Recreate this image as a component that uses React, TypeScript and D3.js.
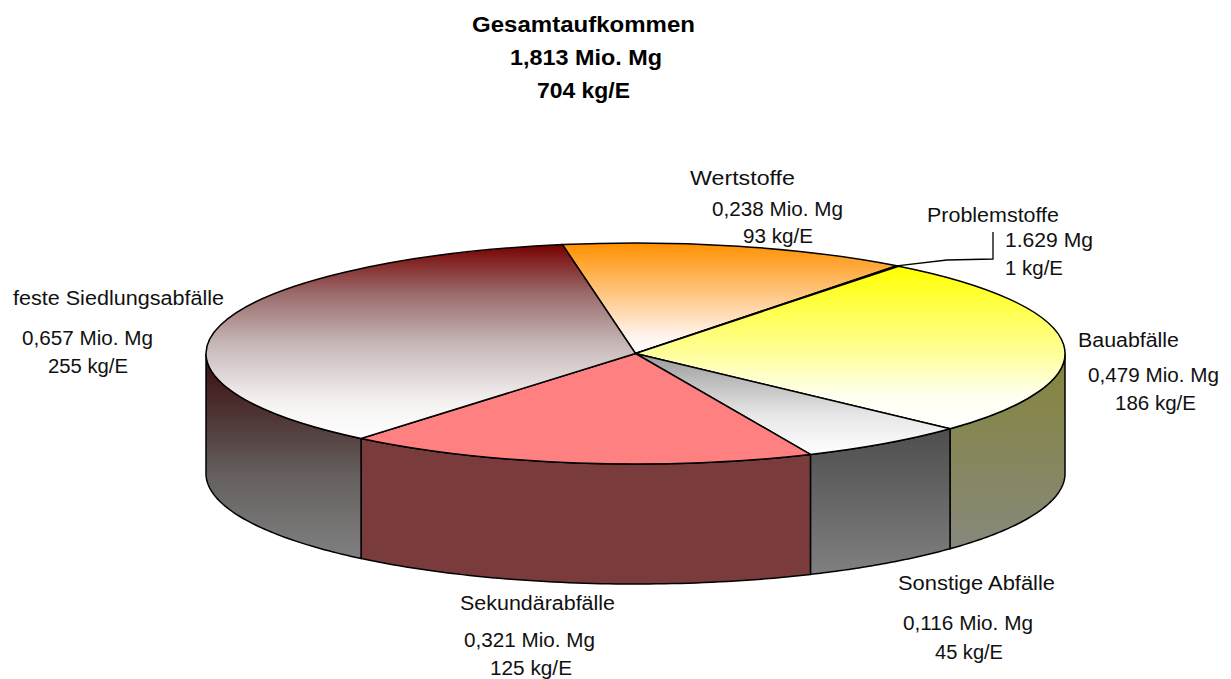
import React from "react";
import * as d3 from "d3";

const categories = ["Wertstoffe", "Problemstoffe", "Bauabfälle", "Sonstige Abfälle", "Sekundärabfälle", "feste Siedlungsabfälle"];
const massMioMg = [0.238, 0.001629, 0.479, 0.116, 0.321, 0.657];
const amountLabels = ["0,238 Mio. Mg", "1.629 Mg", "0,479 Mio. Mg", "0,116 Mio. Mg", "0,321 Mio. Mg", "0,657 Mio. Mg"];
const perCapitaLabels = ["93 kg/E", "1 kg/E", "186 kg/E", "45 kg/E", "125 kg/E", "255 kg/E"];
const titleLines = ["Gesamtaufkommen", "1,813 Mio. Mg", "704 kg/E"];

const W = 1231, H = 679;
const cx = 635.5, cy = 353.5, rx = 429.5, ry = 110.5, depth = 120;
const startDeg = -9.8;
const R = 1000;

// gradient stops [offset, colour] of each slice's top face and side wall
type Stops = [number, string][];
const topFill: Stops[] = [
  [[0, "#ff9000"], [0.85, "#fff4ee"], [1, "#ffffff"]],
  [[0, "#ffe040"], [1, "#ffffff"]],
  [[0, "#ffff00"], [0.5, "#ffff90"], [0.8, "#fffff0"], [1, "#ffffff"]],
  [[0, "#999999"], [0.6, "#e6e6e6"], [1, "#ffffff"]],
  [[0, "#ff8080"], [1, "#ff8080"]],
  [[0, "#780000"], [0.25, "#9a6a6a"], [0.5, "#c4b4b4"], [0.8, "#f4f0f0"], [1, "#ffffff"]],
];
const sideFill: Stops[] = [
  [[0, "#806000"], [1, "#808080"]],
  [[0, "#807000"], [1, "#808080"]],
  [[0, "#85853a"], [1, "#88887c"]],
  [[0, "#4e4e4e"], [1, "#808080"]],
  [[0, "#793b3b"], [1, "#793b3b"]],
  [[0, "#3c0c0c"], [0.3, "#4e3434"], [0.6, "#666060"], [1, "#808080"]],
];

// for each label: left edge, width and baseline of its three rows
const labelLayout = [
  { xs: [690, 712, 743], ws: [105, 131, 70], ys: [185, 216, 243] },
  { xs: [927, 1005, 1005], ws: [132, 88, 58], ys: [222, 247, 275] },
  { xs: [1078, 1088, 1115], ws: [101, 131, 81], ys: [347, 382, 410] },
  { xs: [898, 903, 935], ws: [157, 130, 68], ys: [590, 630, 659] },
  { xs: [460, 464, 490], ws: [155, 131, 82], ys: [610, 647, 675] },
  { xs: [13, 22, 48], ws: [211, 131, 80], ys: [305, 345, 373] },
];
const titleLayout = { xs: [472, 510, 537], ws: [223, 152, 93], ys: [32, 65, 98] };

const pie = d3.pie<number>().sort(null)
  .startAngle((startDeg * Math.PI) / 180)
  .endAngle((startDeg * Math.PI) / 180 + 2 * Math.PI);
const arcs = pie(massMioMg);
const arcGen = d3.arc<d3.PieArcDatum<number>>().innerRadius(0).outerRadius(R);

const ex = (a: number) => cx + rx * Math.sin(a);
const ey = (a: number) => cy - ry * Math.cos(a);

const wall = d3.area<number>().x(ex).y0(ey).y1((a) => ey(a) + depth);

function wallAngles(d: d3.PieArcDatum<number>): number[] {
  // only the front half (between 90° and 270°) of the rim is visible
  const a0 = Math.max(d.startAngle, Math.PI / 2);
  const a1 = Math.min(d.endAngle, (3 * Math.PI) / 2);
  if (a1 <= a0) return [];
  return d3.range(0, 61).map((i) => a0 + ((a1 - a0) * i) / 60);
}

const leader = d3.line()([[ex(arcs[1].startAngle), ey(arcs[1].startAngle)], [947, 260], [993, 259], [993, 232]]) ?? "";

const Grad = ({ id, stops }: { id: string; stops: Stops }) => (
  <linearGradient id={id} x1="0" y1="0" x2="0" y2="1">
    {stops.map(([o, c], k) => <stop key={k} offset={o} stopColor={c} />)}
  </linearGradient>
);

export default function App() {
  return (
    <svg width={W} height={H} viewBox={`0 0 ${W} ${H}`}
      style={{ position: "absolute", left: 0, top: 0, background: "#fff" }}
      fontFamily="'Liberation Sans', Arial, sans-serif">
      <defs>
        {arcs.map((_, i) => (
          <React.Fragment key={i}>
            <Grad id={`top${i}`} stops={topFill[i]} />
            <Grad id={`side${i}`} stops={sideFill[i]} />
          </React.Fragment>
        ))}
      </defs>

      {arcs.map((d, i) => {
        const pts = wallAngles(d);
        return pts.length ? (
          <path key={i} d={wall(pts) ?? ""} fill={`url(#side${i})`} stroke="#000" strokeWidth={1.5} />
        ) : null;
      })}

      <g transform={`translate(${cx},${cy}) scale(${rx / R},${ry / R})`}>
        {arcs.map((d, i) => (
          <path key={i} d={arcGen(d) ?? ""} fill={`url(#top${i})`} stroke="#000" strokeWidth={1.5}
            vectorEffect="non-scaling-stroke" />
        ))}
      </g>

      <path d={leader} fill="none" stroke="#000" strokeWidth={1.3} />

      <g fontWeight="bold" fontSize={22} fill="#000">
        {titleLines.map((t, i) => (
          <text key={t} x={titleLayout.xs[i]} y={titleLayout.ys[i]}
            textLength={titleLayout.ws[i]} lengthAdjust="spacingAndGlyphs">{t}</text>
        ))}
      </g>

      <g fontSize={20} fill="#111">
        {categories.map((c, i) => {
          const l = labelLayout[i];
          const rows = [c, amountLabels[i], perCapitaLabels[i]];
          return rows.map((t, j) => (
            <text key={j} x={l.xs[j]} y={l.ys[j]} textLength={l.ws[j]} lengthAdjust="spacingAndGlyphs">{t}</text>
          ));
        })}
      </g>
    </svg>
  );
}
